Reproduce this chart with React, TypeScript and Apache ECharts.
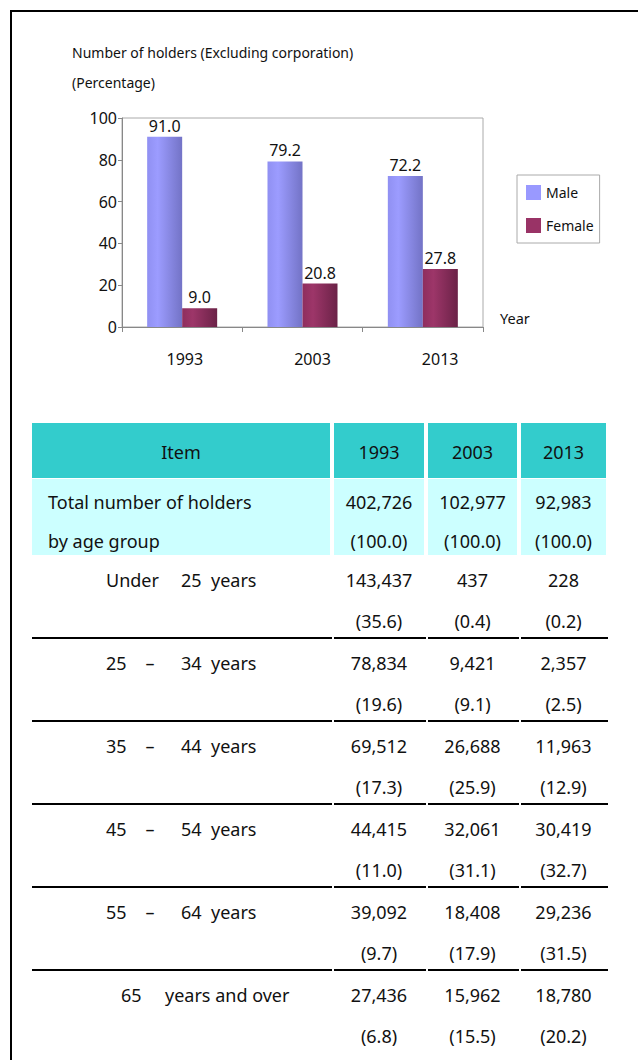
import React, { useEffect, useRef } from 'react';
import * as echarts from 'echarts';

// ---------- data ----------
const years = ['1993', '2003', '2013'];
const male = [91.0, 79.2, 72.2];
const female = [9.0, 20.8, 27.8];
const seriesNames = ['Male', 'Female'];

const chartTitle = 'Number of holders (Excluding corporation)';
const unitLabel = '(Percentage)';
const xAxisName = 'Year';

const headerItem = 'Item';
const totalLabel = ['Total number of holders', 'by age group'];
const totalCounts = [402726, 102977, 92983];
const totalPct = [100.0, 100.0, 100.0];

const ageLabels = [
  'Under 25 years',
  '25 – 34 years',
  '35 – 44 years',
  '45 – 54 years',
  '55 – 64 years',
  '65 years and over',
];
const counts1993 = [143437, 78834, 69512, 44415, 39092, 27436];
const counts2003 = [437, 9421, 26688, 32061, 18408, 15962];
const counts2013 = [228, 2357, 11963, 30419, 29236, 18780];
const pct1993 = [35.6, 19.6, 17.3, 11.0, 9.7, 6.8];
const pct2003 = [0.4, 9.1, 25.9, 31.1, 17.9, 15.5];
const pct2013 = [0.2, 2.5, 12.9, 32.7, 31.5, 20.2];

// ---------- helpers ----------
const FONT = "'Noto Sans', sans-serif";
const NUMFONT = "'Noto Sans', sans-serif";
const fmtN = (v: number) => v.toLocaleString('en-US');
const fmtP = (v: number) => '(' + v.toFixed(1) + ')';

function txt(x: number, y: number, text: string, size: number, align: string = 'left', color = '#111', family = FONT) {
  return {
    type: 'text',
    x,
    y,
    silent: true,
    style: { text, fill: color, font: `${size}px ${family}`, textAlign: align, textVerticalAlign: 'middle' },
  };
}

function buildTable() {
  const els: any[] = [];
  const itemCol = [32, 330];
  const yearCols = [
    [334, 424],
    [428, 517],
    [521, 606],
  ];
  const FS = 18;
  // header
  els.push({ type: 'rect', shape: { x: itemCol[0], y: 423, width: itemCol[1] - itemCol[0], height: 55 }, style: { fill: '#33CCCC' } });
  yearCols.forEach((c) =>
    els.push({ type: 'rect', shape: { x: c[0], y: 423, width: c[1] - c[0], height: 55 }, style: { fill: '#33CCCC' } })
  );
  els.push(txt((itemCol[0] + itemCol[1]) / 2, 452, headerItem, FS, 'center'));
  yearCols.forEach((c, i) => els.push(txt((c[0] + c[1]) / 2, 452, years[i], FS, 'center')));
  // total row
  els.push({ type: 'rect', shape: { x: itemCol[0], y: 479, width: itemCol[1] - itemCol[0], height: 76 }, style: { fill: '#CCFFFF' } });
  yearCols.forEach((c) =>
    els.push({ type: 'rect', shape: { x: c[0], y: 479, width: c[1] - c[0], height: 76 }, style: { fill: '#CCFFFF' } })
  );
  els.push(txt(48, 502, totalLabel[0], FS));
  els.push(txt(48, 541, totalLabel[1], FS));
  yearCols.forEach((c, i) => {
    const cx = (c[0] + c[1]) / 2;
    els.push(txt(cx, 502, fmtN(totalCounts[i]), FS, 'center'));
    els.push(txt(cx, 541, fmtP(totalPct[i]), FS, 'center'));
  });
  // age rows
  const counts = [counts1993, counts2003, counts2013];
  const pcts = [pct1993, pct2003, pct2013];
  ageLabels.forEach((lab, r) => {
    const y1 = 580 + 83 * r;
    const y2 = 621 + 83 * r;
    const tok = lab.split(' ');
    if (tok.length === 3) {
      els.push(txt(106, y1, tok[0], FS));
      els.push(txt(181, y1, tok[1], FS));
      els.push(txt(211, y1, tok[2], FS));
    } else if (tok[1] === '–') {
      els.push(txt(106, y1, tok[0], FS));
      els.push(txt(150, y1, tok[1], FS, 'center'));
      els.push(txt(181, y1, tok[2], FS));
      els.push(txt(211, y1, tok[3], FS));
    } else {
      els.push(txt(121, y1, tok[0], FS));
      els.push(txt(165, y1, tok.slice(1).join(' '), FS));
    }
    yearCols.forEach((c, i) => {
      const cx = (c[0] + c[1]) / 2;
      els.push(txt(cx, y1, fmtN(counts[i][r]), FS, 'center'));
      els.push(txt(cx, y2, fmtP(pcts[i][r]), FS, 'center'));
    });
    if (r < ageLabels.length - 1) {
      const ly = 638 + 83 * r;
      [itemCol, ...yearCols].forEach((c) =>
        els.push({
          type: 'line',
          shape: { x1: c[0], y1: ly, x2: c[1] + 2, y2: ly },
          style: { stroke: '#000', lineWidth: 2 },
        })
      );
    }
  });
  return els;
}

export default function App() {
  const ref = useRef<HTMLDivElement>(null);
  useEffect(() => {
    if (!ref.current) return;
    const chart = echarts.init(ref.current, undefined, { renderer: 'svg' });
    const maleGrad = new echarts.graphic.LinearGradient(0, 0, 1, 0, [
      { offset: 0, color: '#9090F2' },
      { offset: 0.3, color: '#9C9CFF' },
      { offset: 1, color: '#7373C6' },
    ]);
    const femaleGrad = new echarts.graphic.LinearGradient(0, 0, 1, 0, [
      { offset: 0, color: '#8E2E5E' },
      { offset: 0.3, color: '#9D3669' },
      { offset: 1, color: '#6B2247' },
    ]);
    const labelCfg = {
      show: true,
      position: 'top',
      distance: 3,
      fontSize: 16,
      fontFamily: NUMFONT,
      color: '#111',
      formatter: (p: any) => Number(p.value).toFixed(1),
    };
    chart.setOption({
      animation: false,
      backgroundColor: '#fff',
      textStyle: { fontFamily: FONT },
      grid: [
        { left: 122, right: 155, top: 118, bottom: 733, show: true, borderColor: '#aaa', borderWidth: 1, backgroundColor: 'transparent' },
        { left: 121, width: 383, top: 118, bottom: 733 },
      ],
      legend: {
        orient: 'vertical',
        left: 517,
        top: 175,
        borderColor: '#aaa',
        borderWidth: 1,
        padding: [10, 6, 10, 9],
        itemWidth: 15,
        itemHeight: 15,
        itemGap: 18,
        icon: 'rect',
        textStyle: { fontSize: 14, color: '#111', fontFamily: FONT },
        data: [
          { name: seriesNames[0], itemStyle: { color: '#9999FF' } },
          { name: seriesNames[1], itemStyle: { color: '#993366' } },
        ],
      },
      xAxis: [
        {
          type: 'category',
          gridIndex: 0,
          data: years,
          axisLine: { lineStyle: { color: '#888' } },
          axisTick: { show: true, length: 5, lineStyle: { color: '#888' } },
          axisLabel: { show: false },
        },
        {
          type: 'category',
          gridIndex: 1,
          data: years,
          axisLine: { show: false },
          axisTick: { show: false },
          axisLabel: { fontSize: 16, color: '#111', margin: 24, fontFamily: NUMFONT },
        },
      ],
      yAxis: [
        {
          type: 'value',
          gridIndex: 0,
          min: 0,
          max: 100,
          interval: 20,
          axisLine: { show: true, lineStyle: { color: '#888' } },
          axisTick: { show: true, length: 4, lineStyle: { color: '#888' } },
          splitLine: { show: false },
          axisLabel: { fontSize: 16, color: '#111', margin: 5, fontFamily: NUMFONT },
        },
        { type: 'value', gridIndex: 1, min: 0, max: 100, show: false },
      ],
      series: [
        {
          name: seriesNames[0],
          type: 'bar',
          xAxisIndex: 0,
          yAxisIndex: 0,
          data: male,
          barWidth: 35,
          barGap: '0%',
          itemStyle: { color: maleGrad },
          label: labelCfg,
        },
        {
          name: seriesNames[1],
          type: 'bar',
          xAxisIndex: 0,
          yAxisIndex: 0,
          data: female,
          barWidth: 35,
          barGap: '0%',
          itemStyle: { color: femaleGrad },
          label: labelCfg,
        },
      ],
      graphic: [
        { type: 'line', shape: { x1: 10, y1: 11, x2: 638, y2: 11 }, style: { stroke: '#000', lineWidth: 2 } },
        { type: 'line', shape: { x1: 11, y1: 10, x2: 11, y2: 1060 }, style: { stroke: '#000', lineWidth: 2 } },
        txt(72, 52, chartTitle, 14),
        txt(72, 82, unitLabel, 14),
        txt(500, 318, xAxisName, 14.5),
        ...buildTable(),
      ],
    });
    return () => chart.dispose();
  }, []);
  return <div ref={ref} style={{ position: 'absolute', left: 0, top: 0, width: 638, height: 1060 }} />;
}
